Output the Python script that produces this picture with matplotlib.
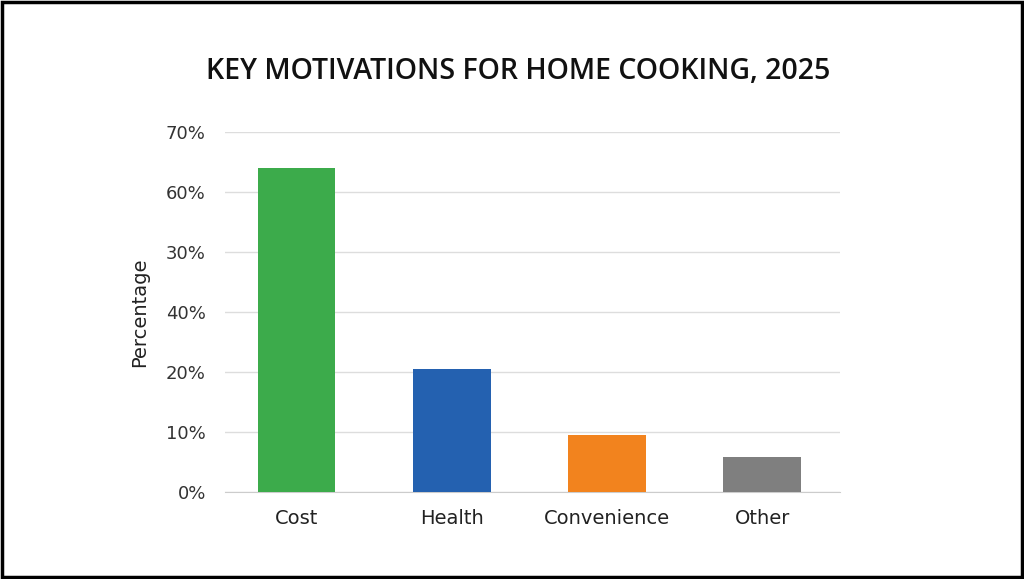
import matplotlib
matplotlib.use("Agg")
import matplotlib.pyplot as plt
from matplotlib.patches import Rectangle

categories = ["Cost", "Health", "Convenience", "Other"]
values = [54, 20.5, 9.5, 5.8]  # in axis units (as drawn)
colors = ["#3cab4b", "#2461b0", "#f2831e", "#7f7f7f"]
tick_pos = [0, 10, 20, 30, 40, 50, 60]
tick_labels = ["0%", "10%", "20%", "40%", "30%", "60%", "70%"]

fig = plt.figure(figsize=(10.24, 5.79), dpi=100)
fig.patches.append(Rectangle((0.002, 0.003), 0.996, 0.994, transform=fig.transFigure,
                             fill=False, edgecolor="black", linewidth=2.5))
ax = fig.add_axes([0.22, 0.15, 0.60, 0.622])
x = range(len(categories))
ax.bar(x, values, width=0.5, color=colors, zorder=3)
ax.set_xlim(-0.46, 3.5)
ax.set_ylim(0, 60)
ax.set_yticks(tick_pos)
ax.set_yticklabels(tick_labels, fontsize=13, color="#333333")
ax.set_xticks(list(x))
ax.set_xticklabels(categories, fontsize=14, color="#222222")
ax.tick_params(length=0, axis="y", pad=14)
ax.tick_params(length=0, axis="x", pad=12)
ax.grid(axis="y", color="#dddddd", linewidth=1, zorder=0)
for s in ["top", "right", "left"]:
    ax.spines[s].set_visible(False)
ax.spines["bottom"].set_color("#cccccc")
ax.set_ylabel("Percentage", fontsize=14, color="#222222", labelpad=12)
fig.text(0.506, 0.876, "KEY MOTIVATIONS FOR HOME COOKING, 2025", ha="center", va="center",
         fontsize=20.5, fontweight="semibold", family="Open Sans", color="#111111")
fig.savefig("out.png", dpi=100)
